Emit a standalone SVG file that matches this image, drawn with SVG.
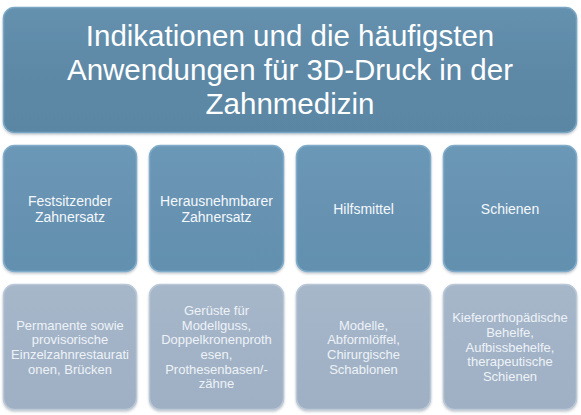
<svg xmlns="http://www.w3.org/2000/svg" width="581" height="415" viewBox="0 0 581 415">
<defs>
<linearGradient id="gTitle" x1="0" y1="0" x2="0" y2="1">
<stop offset="0" stop-color="#6591ae"/>
<stop offset="0.5" stop-color="#5d89a7"/>
<stop offset="1" stop-color="#5a86a4"/>
</linearGradient>
<linearGradient id="gMid" x1="0" y1="0" x2="0" y2="1">
<stop offset="0" stop-color="#6c98b7"/>
<stop offset="0.5" stop-color="#6792b2"/>
<stop offset="1" stop-color="#6390af"/>
</linearGradient>
<linearGradient id="gLow" x1="0" y1="0" x2="0" y2="1">
<stop offset="0" stop-color="#a7b7ca"/>
<stop offset="0.5" stop-color="#a2b3c7"/>
<stop offset="1" stop-color="#9fb0c4"/>
</linearGradient>
<filter id="sh" x="-5%" y="-5%" width="110%" height="115%">
<feDropShadow dx="0" dy="1.5" stdDeviation="1.2" flood-color="#4a5a6a" flood-opacity="0.35"/>
</filter>
</defs>
<style>
.title{fill:url(#gTitle);stroke:#7aa6c4;stroke-width:1.5;filter:url(#sh)}
.mid{fill:url(#gMid);stroke:#80acca;stroke-width:1.5;filter:url(#sh)}
.low{fill:url(#gLow);stroke:#b9c7d7;stroke-width:1.5;filter:url(#sh)}
text{font-family:"Liberation Sans",Arial,sans-serif;text-anchor:middle;fill:#ffffff}
.t1{font-size:29.5px}
.t2{font-size:14px;fill:#f4f8fb}
.t3{font-size:13px;fill:#eef2f7}
</style>
<g id="title">
<rect class="title" x="3.5" y="7.5" width="573" height="125" rx="11"/>
<text class="t1" x="290" y="45.5">Indikationen und die häufigsten</text>
<text class="t1" x="290" y="79.5">Anwendungen für 3D-Druck in der</text>
<text class="t1" x="290" y="113.5">Zahnmedizin</text>
</g>
<g id="festsitzender">
<rect class="mid" x="3.5" y="145.5" width="133" height="126" rx="11"/>
<text class="t2" x="70" y="205.5">Festsitzender</text>
<text class="t2" x="70" y="221.5">Zahnersatz</text>
</g>
<g id="herausnehmbarer">
<rect class="mid" x="149.5" y="145.5" width="134" height="126" rx="11"/>
<text class="t2" x="216.5" y="205.5">Herausnehmbarer</text>
<text class="t2" x="216.5" y="221.5">Zahnersatz</text>
</g>
<g id="hilfsmittel">
<rect class="mid" x="296.5" y="145.5" width="134" height="126" rx="11"/>
<text class="t2" x="363.5" y="213.5">Hilfsmittel</text>
</g>
<g id="schienen">
<rect class="mid" x="443.5" y="145.5" width="133" height="126" rx="11"/>
<text class="t2" x="510" y="213.5">Schienen</text>
</g>
<g id="permanente">
<rect class="low" x="3.5" y="284.5" width="133" height="125" rx="11"/>
<text class="t3" x="70" y="329.6">Permanente sowie</text>
<text class="t3" x="70" y="344.3">provisorische</text>
<text class="t3" x="70" y="359">Einzelzahnrestaurati</text>
<text class="t3" x="70" y="373.7">onen, Brücken</text>
</g>
<g id="gerueste">
<rect class="low" x="149.5" y="284.5" width="134" height="125" rx="11"/>
<text class="t3" x="216.5" y="314.9">Gerüste für</text>
<text class="t3" x="216.5" y="329.6">Modellguss,</text>
<text class="t3" x="216.5" y="344.3">Doppelkronenproth</text>
<text class="t3" x="216.5" y="359">esen,</text>
<text class="t3" x="216.5" y="373.7">Prothesenbasen/-</text>
<text class="t3" x="216.5" y="388.4">zähne</text>
</g>
<g id="modelle">
<rect class="low" x="296.5" y="284.5" width="134" height="125" rx="11"/>
<text class="t3" x="363.5" y="329.6">Modelle,</text>
<text class="t3" x="363.5" y="344.3">Abformlöffel,</text>
<text class="t3" x="363.5" y="359">Chirurgische</text>
<text class="t3" x="363.5" y="373.7">Schablonen</text>
</g>
<g id="kieferorthopaedische">
<rect class="low" x="443.5" y="284.5" width="133" height="125" rx="11"/>
<text class="t3" x="510" y="322.2">Kieferorthopädische</text>
<text class="t3" x="510" y="336.9">Behelfe,</text>
<text class="t3" x="510" y="351.6">Aufbissbehelfe,</text>
<text class="t3" x="510" y="366.3">therapeutische</text>
<text class="t3" x="510" y="381">Schienen</text>
</g>
<g id="connectors"></g>
</svg>
